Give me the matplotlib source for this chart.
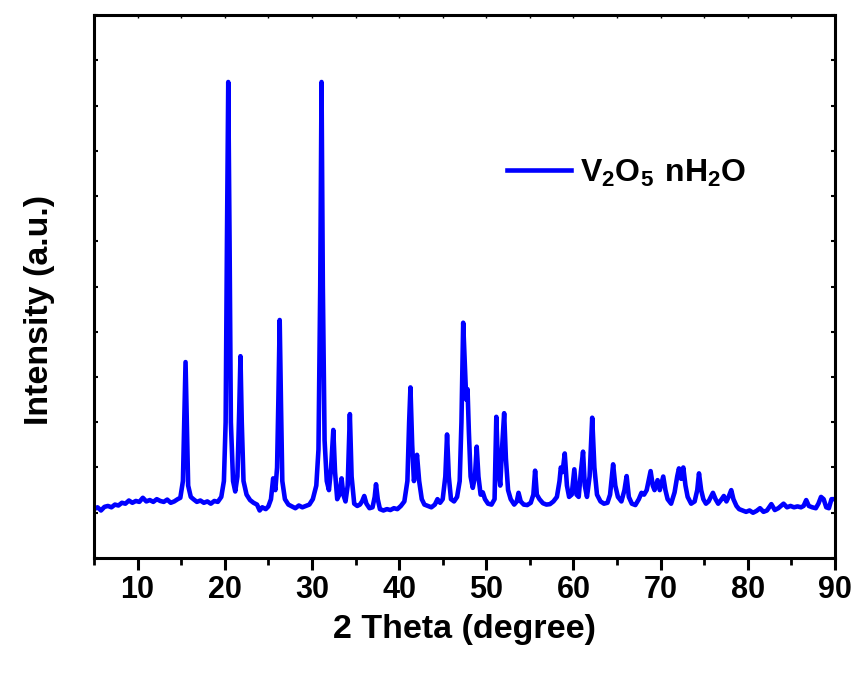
import matplotlib.pyplot as plt
from matplotlib.ticker import MultipleLocator, NullFormatter

plt.rcParams['font.family'] = ['Liberation Sans', 'DejaVu Sans']
plt.rcParams['font.weight'] = 'bold'
plt.rcParams['mathtext.fontset'] = 'custom'
plt.rcParams['mathtext.bf'] = 'Liberation Sans:bold'
plt.rcParams['mathtext.rm'] = 'Liberation Sans:bold'

# XRD pattern (2theta in degree, intensity in a.u.)
two_theta = [
    5.0, 5.4, 5.8, 6.2, 6.6, 7.0, 7.4, 7.8, 8.2, 8.6, 9.0, 9.4, 9.8, 10.2, 10.6,
    11.0, 11.4, 11.8, 12.2, 12.6, 13.0, 13.4, 13.8, 14.2, 14.6, 14.9, 15.2, 15.35,
    15.5, 15.65, 15.8, 16.1, 16.4, 16.8, 17.2, 17.6, 18.0, 18.4, 18.8, 19.2, 19.6,
    19.9, 20.1, 20.25, 20.4, 20.55, 20.7, 20.95, 21.2, 21.45, 21.65, 21.8, 21.95,
    22.15, 22.5, 22.9, 23.3, 23.7, 24.0, 24.3, 24.7, 25.0, 25.3, 25.55, 25.8, 26.0,
    26.15, 26.3, 26.45, 26.6, 26.9, 27.3, 27.7, 28.1, 28.5, 28.9, 29.3, 29.7, 30.1,
    30.5, 30.75, 30.95, 31.1, 31.25, 31.45, 31.7, 31.95, 32.2, 32.45, 32.65, 32.9,
    33.15, 33.4, 33.6, 33.85, 34.1, 34.35, 34.55, 34.85, 35.2, 35.5, 35.75, 36.0,
    36.25, 36.6, 36.95, 37.2, 37.35, 37.55, 37.8, 38.2, 38.6, 39.0, 39.4, 39.8,
    40.2, 40.6, 40.95, 41.15, 41.3, 41.5, 41.7, 41.85, 42.05, 42.3, 42.6, 42.9,
    43.3, 43.7, 44.1, 44.4, 44.7, 45.0, 45.3, 45.5, 45.7, 45.95, 46.3, 46.65,
    46.95, 47.15, 47.35, 47.55, 47.7, 47.85, 48.0, 48.2, 48.45, 48.7, 48.9, 49.1,
    49.35, 49.6, 49.85, 50.2, 50.6, 50.95, 51.15, 51.35, 51.6, 51.8, 52.05, 52.25,
    52.5, 52.8, 53.2, 53.5, 53.7, 53.95, 54.3, 54.7, 55.1, 55.4, 55.6, 55.8, 56.1,
    56.5, 56.9, 57.3, 57.7, 58.1, 58.4, 58.55, 58.75, 59.0, 59.25, 59.5, 59.8,
    60.1, 60.35, 60.6, 60.85, 61.1, 61.3, 61.55, 61.85, 62.15, 62.4, 62.7, 63.1,
    63.5, 63.9, 64.2, 64.55, 64.8, 65.1, 65.5, 65.85, 66.1, 66.35, 66.7, 67.1,
    67.5, 67.8, 68.1, 68.4, 68.85, 69.1, 69.3, 69.65, 69.9, 70.3, 70.55, 70.8,
    71.2, 71.6, 71.9, 72.1, 72.35, 72.6, 72.85, 73.1, 73.5, 73.9, 74.2, 74.4,
    74.65, 74.9, 75.2, 75.5, 76.0, 76.3, 76.6, 77.0, 77.25, 77.55, 77.8, 78.1,
    78.35, 78.7, 79.0, 79.4, 79.8, 80.2, 80.6, 81.0, 81.4, 81.8, 82.2, 82.7, 83.1,
    83.5, 84.1, 84.5, 84.9, 85.3, 85.7, 86.1, 86.4, 86.7, 87.0, 87.4, 87.8, 88.1,
    88.4, 88.7, 89.0, 89.3, 89.6, 90.0,
]
intensity = [
    1.08, 1.12, 1.05, 1.13, 1.15, 1.12, 1.18, 1.16, 1.22, 1.20, 1.27, 1.22, 1.26, 1.24, 1.33,
    1.25, 1.28, 1.24, 1.30, 1.26, 1.24, 1.29, 1.22, 1.25, 1.30, 1.33, 1.7, 3.0,
    4.33, 3.0, 1.6, 1.35, 1.30, 1.24, 1.27, 1.22, 1.25, 1.20, 1.26, 1.24, 1.35,
    1.7, 3.0, 7.0, 10.52, 7.0, 3.0, 1.7, 1.47, 1.8, 3.2, 4.46, 3.0,
    1.7, 1.4, 1.28, 1.22, 1.18, 1.05, 1.12, 1.08, 1.14, 1.3, 1.76, 1.5, 2.0,
    3.5, 5.26, 3.4, 1.7, 1.3, 1.18, 1.14, 1.10, 1.16, 1.12, 1.15, 1.18, 1.30,
    1.6, 2.4, 6.0, 10.52, 6.0, 2.6, 1.7, 1.5, 2.0, 2.83, 1.9, 1.3,
    1.4, 1.76, 1.4, 1.25, 1.6, 3.18, 1.8, 1.2, 1.15, 1.18, 1.25, 1.37,
    1.2, 1.10, 1.12, 1.35, 1.63, 1.3, 1.08, 1.05, 1.08, 1.06, 1.1, 1.08,
    1.15, 1.25, 1.7, 3.0, 3.77, 2.5, 1.7, 1.9, 2.28, 1.7, 1.3, 1.18,
    1.15, 1.12, 1.18, 1.3, 1.22, 1.3, 1.8, 2.73, 1.8, 1.3, 1.25, 1.35,
    1.7, 3.0, 5.2, 4.2, 3.5, 3.73, 2.8, 1.8, 1.55, 1.8, 2.46, 1.8,
    1.4, 1.45, 1.3, 1.2, 1.18, 1.3, 3.12, 2.0, 1.6, 2.4, 3.2, 2.2,
    1.5, 1.3, 1.18, 1.25, 1.44, 1.25, 1.18, 1.17, 1.22, 1.4, 1.93, 1.4, 1.3,
    1.21, 1.18, 1.19, 1.25, 1.35, 1.7, 2.0, 1.9, 2.31, 1.6, 1.35, 1.4,
    1.96, 1.4, 1.35, 1.9, 2.35, 1.6, 1.35, 1.8, 3.1, 2.0, 1.4, 1.25,
    1.2, 1.22, 1.4, 2.07, 1.6, 1.35, 1.25, 1.5, 1.81, 1.35, 1.2, 1.17,
    1.3, 1.44, 1.40, 1.5, 1.92, 1.6, 1.5, 1.72, 1.5, 1.8, 1.5, 1.3,
    1.2, 1.45, 1.8, 1.98, 1.75, 2.0, 1.6, 1.35, 1.2, 1.25, 1.5, 1.87,
    1.5, 1.3, 1.2, 1.25, 1.44, 1.3, 1.2, 1.3, 1.37, 1.25, 1.35, 1.5,
    1.3, 1.15, 1.08, 1.05, 1.02, 1.05, 1.0, 1.04, 1.1, 1.02, 1.05, 1.19, 1.06,
    1.1, 1.2, 1.12, 1.15, 1.12, 1.14, 1.12, 1.15, 1.28, 1.15, 1.12, 1.1, 1.2,
    1.35, 1.3, 1.12, 1.1, 1.3, 1.3,
]

fig = plt.figure(figsize=(8.57, 6.77), dpi=100)
ax = fig.add_axes([0.1097, 0.1758, 0.8646, 0.802])

ax.plot(two_theta, intensity, color='#0000ff', lw=3.3, label=r'$\mathbf{V_2O_5\ nH_2O}$')

ax.set_xlim(5, 90)
ax.set_ylim(0, 12)
ax.xaxis.set_major_locator(MultipleLocator(10))
ax.xaxis.set_minor_locator(MultipleLocator(5))
ax.yaxis.set_major_locator(MultipleLocator(1))
ax.yaxis.set_major_formatter(NullFormatter())

for s in ax.spines.values():
    s.set_linewidth(2.2)

ax.tick_params(axis='x', which='major', direction='out', length=8.5, width=2.2,
               labelsize=22, pad=4)
ax.tick_params(axis='x', which='minor', direction='out', length=5, width=2.0)
ax.tick_params(axis='y', which='major', direction='in', length=3, width=1.5,
               left=True, right=True)
for lab in ax.get_xticklabels():
    lab.set_fontweight('bold')

# small inward ticks along the top edge
top = ax.secondary_xaxis('top')
top.xaxis.set_major_locator(MultipleLocator(5))
top.tick_params(direction='in', length=2, width=1.0, labeltop=False)
top.spines['top'].set_visible(False)

ax.set_xlabel('2 Theta (degree)', fontsize=24.5, fontweight='bold', labelpad=6)
ax.set_ylabel('Intensity (a.u.)', fontsize=24.5, fontweight='bold')
ax.yaxis.set_label_coords(-0.052, 0.457)

ax.legend(loc='center left', bbox_to_anchor=(0.557, 0.709), frameon=False,
          fontsize=23, handlelength=2.0, handletextpad=0.3,
          borderpad=0, borderaxespad=0)

fig.savefig('out.png', dpi=100)
